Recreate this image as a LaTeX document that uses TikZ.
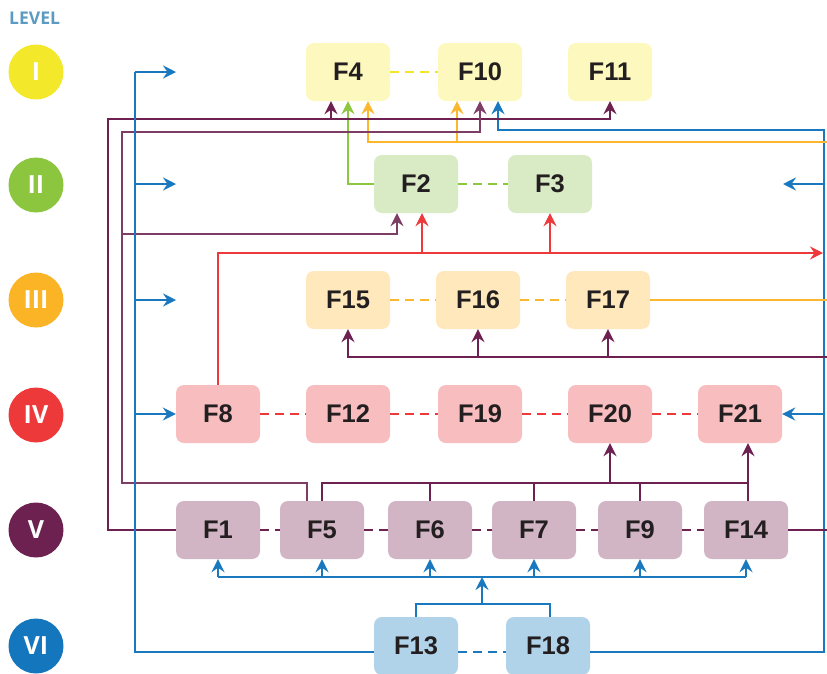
\documentclass[tikz,border=0pt]{standalone}
\usepackage{fontspec}
\setmainfont{Liberation Sans}
\newfontfamily\lvlfont{Open Sans}
\usetikzlibrary{arrows.meta}

\definecolor{ink}{HTML}{231F20}
\definecolor{levelText}{HTML}{5B9AC2}
% level colours: circle / box fill / connector
\definecolor{yCirc}{HTML}{F3E92A}\definecolor{yBox}{HTML}{FDF9BE}\definecolor{yLine}{HTML}{F3E62A}
\definecolor{gCirc}{HTML}{8CC63F}\definecolor{gBox}{HTML}{D9EBC5}\definecolor{gLine}{HTML}{8DC63F}
\definecolor{oCirc}{HTML}{FBB425}\definecolor{oBox}{HTML}{FEE8BC}\definecolor{oLine}{HTML}{FBB82F}
\definecolor{rCirc}{HTML}{EE393B}\definecolor{rBox}{HTML}{F8BDBF}\definecolor{rLine}{HTML}{EE393B}
\definecolor{pCirc}{HTML}{6C2150}\definecolor{pBox}{HTML}{D1B5C5}\definecolor{pLine}{HTML}{6D2150}
\definecolor{pLineB}{HTML}{7E3D65}
\definecolor{bCirc}{HTML}{1476BC}\definecolor{bBox}{HTML}{B1D3EA}\definecolor{bLine}{HTML}{1A78BE}

\tikzset{
  fbox/.style={rectangle, rounded corners=8pt, minimum width=84pt, minimum height=58pt,
    inner sep=0pt, text=ink, font=\fontsize{25.5}{25.5}\selectfont\bfseries},
  lvl/.style={circle, minimum size=55pt, inner sep=0pt, text=white,
    font=\lvlfont\fontsize{25}{25}\selectfont\bfseries},
  wire/.style={line width=2pt},
  arrowed/.style={-{Stealth[length=13pt,width=13pt,inset=4.5pt]}},
  link/.style={wire, dash pattern=on 9pt off 6pt},
}

\begin{document}
\begin{tikzpicture}[x=1pt,y=-1pt]
\useasboundingbox (0,0) rectangle (827,673);

% level labels
\node[anchor=west, inner sep=0pt, text=levelText, font=\lvlfont\fontsize{17.5}{17.5}\selectfont\bfseries] (lvlhead) at (9,18.5) {LEVEL};
\node[lvl, fill=yCirc] (L1) at (36,72) {I};
\node[lvl, fill=gCirc] (L2) at (36,185) {II};
\node[lvl, fill=oCirc] (L3) at (36,300) {III};
\node[lvl, fill=rCirc] (L4) at (36,415) {IV};
\node[lvl, fill=pCirc] (L5) at (36,530) {V};
\node[lvl, fill=bCirc] (L6) at (36,646) {VI};

% level I
\node[fbox, fill=yBox] (F4)  at (348,72) {F4};
\node[fbox, fill=yBox] (F10) at (480,72) {F10};
\node[fbox, fill=yBox] (F11) at (610,72) {F11};
% level II
\node[fbox, fill=gBox] (F2) at (416,184) {F2};
\node[fbox, fill=gBox] (F3) at (550,184) {F3};
% level III
\node[fbox, fill=oBox] (F15) at (348,300) {F15};
\node[fbox, fill=oBox] (F16) at (478,300) {F16};
\node[fbox, fill=oBox] (F17) at (608,300) {F17};
% level IV
\node[fbox, fill=rBox] (F8)  at (218,414) {F8};
\node[fbox, fill=rBox] (F12) at (348,414) {F12};
\node[fbox, fill=rBox] (F19) at (480,414) {F19};
\node[fbox, fill=rBox] (F20) at (610,414) {F20};
\node[fbox, fill=rBox] (F21) at (740,414) {F21};
% level V
\node[fbox, fill=pBox] (F1)  at (218,530) {F1};
\node[fbox, fill=pBox] (F5)  at (322,530) {F5};
\node[fbox, fill=pBox] (F6)  at (430,530) {F6};
\node[fbox, fill=pBox] (F7)  at (534,530) {F7};
\node[fbox, fill=pBox] (F9)  at (640,530) {F9};
\node[fbox, fill=pBox] (F14) at (746,530) {F14};
% level VI
\node[fbox, fill=bBox] (F13) at (416,646) {F13};
\node[fbox, fill=bBox] (F18) at (548,646) {F18};

% dashed links inside each level
\draw[link, yLine] (F4.east) -- (F10.west);
\draw[link, gLine] (F2.east) -- (F3.west);
\draw[link, oLine] (F15.east) -- (F16.west);
\draw[link, oLine] (F16.east) -- (F17.west);
\draw[link, rLine] (F8.east) -- (F12.west);
\draw[link, rLine] (F12.east) -- (F19.west);
\draw[link, rLine] (F19.east) -- (F20.west);
\draw[link, rLine] (F20.east) -- (F21.west);
\draw[link, pLine] (F1.east) -- (F5.west);
\draw[link, pLine] (F5.east) -- (F6.west);
\draw[link, pLine] (F6.east) -- (F7.west);
\draw[link, pLine] (F7.east) -- (F9.west);
\draw[link, pLine] (F9.east) -- (F14.west);
\draw[link, bLine] ([yshift=-6pt]F13.east) -- ([yshift=-6pt]F18.west);

% blue: right-hand feed from F18
\coordinate (bR) at (824,130);
\coordinate (bII) at (783,184);
\draw[wire, bLine, arrowed] ([yshift=-6pt]F18.east) -| (bR) -| ([xshift=18pt]F10.south);
\draw[wire, bLine, arrowed] (bR |- bII) -- (bII);
\draw[wire, bLine, arrowed] (bR |- F21.east) -- (F21.east);

% red: F8 upwards
\coordinate (rEnd) at (823,253);
\draw[wire, rLine, arrowed] (F8.north) |- (rEnd);
\draw[wire, rLine, arrowed] ([xshift=6pt]F2.south |- rEnd) -- ([xshift=6pt]F2.south);
\draw[wire, rLine, arrowed] (F3.south |- rEnd) -- (F3.south);

% green: F2 to F4
\draw[wire, gLine, arrowed] (F2.west) -| (F4.south);

% orange
\coordinate (oEdge) at (827,142);
\coordinate (oEdgeIII) at (827,300);
\draw[wire, oLine] (F17.east) -- (oEdgeIII);
\draw[wire, oLine, arrowed] (oEdge) -| ([xshift=20pt]F4.south);
\draw[wire, oLine, arrowed] ([xshift=-23pt]F10.south |- oEdge) -- ([xshift=-23pt]F10.south);

% purple: outer loop from F1
\coordinate (pOut) at (108,119);
\draw[wire, pLine, arrowed] (F1.west) -| (pOut) -| (F11.south);
\draw[wire, pLine, arrowed] ([xshift=-17pt]F4.south |- pOut) -- ([xshift=-17pt]F4.south);

% purple: inner loop from F5
\coordinate (pIn) at (122,483);
\coordinate (pInTop) at (122,132);
\coordinate (pInII) at (122,234);
\draw[wire, pLineB, arrowed] ([xshift=-15pt]F5.north) |- (pIn) -- (pInTop) -| (F10.south);
\draw[wire, pLineB, arrowed] (pInII) -| ([xshift=-19pt]F2.south);

% purple: level V bus to F20 / F21
\coordinate (pBus) at (748,483);
\draw[wire, pLine] (F5.north) |- (pBus);
\foreach \n in {F6,F7,F9} \draw[wire, pLine] (\n.north) -- (\n.north |- pBus);
\draw[wire, pLine, arrowed] (F20.south |- pBus) -- (F20.south);
\draw[wire, pLine, arrowed] ([xshift=2pt]F14.north) -- ([xshift=2pt]F14.north |- F21.south);

% purple: F14 out to the right and back into level III
\coordinate (pEdgeV) at (827,530);
\coordinate (pEdgeIII) at (827,357);
\draw[wire, pLine] (F14.east) -- (pEdgeV);
\draw[wire, pLine, arrowed] (pEdgeIII) -| (F15.south);
\draw[wire, pLine, arrowed] (F16.south |- pEdgeIII) -- (F16.south);
\draw[wire, pLine, arrowed] (F17.south |- pEdgeIII) -- (F17.south);

% blue: left-hand feed from F13
\coordinate (bL) at (135,72);
\coordinate (bI) at (176,72);
\coordinate (bIIl) at (176,184);
\coordinate (bIII) at (176,300);
\draw[wire, bLine] ([yshift=-6pt]F13.west) -| (bL);
\draw[wire, bLine, arrowed] (bL) -- (bI);
\draw[wire, bLine, arrowed] (bL |- bIIl) -- (bIIl);
\draw[wire, bLine, arrowed] (bL |- bIII) -- (bIII);
\draw[wire, bLine, arrowed] (bL |- F8.west) -- (F8.west);

% blue: F13 / F18 into level V
\coordinate (bTop) at (482,604);
\coordinate (bBus) at (482,577);
\draw[wire, bLine] (F13.north) |- (bTop) -| ([xshift=2pt]F18.north);
\draw[wire, bLine, arrowed] (bTop) -- (bBus);
\draw[wire, bLine] (F1.south |- bBus) -- (F14.south |- bBus);
\foreach \n in {F1,F5,F6,F7,F9,F14} \draw[wire, bLine, arrowed] (\n.south |- bBus) -- (\n.south);

\end{tikzpicture}
\end{document}
